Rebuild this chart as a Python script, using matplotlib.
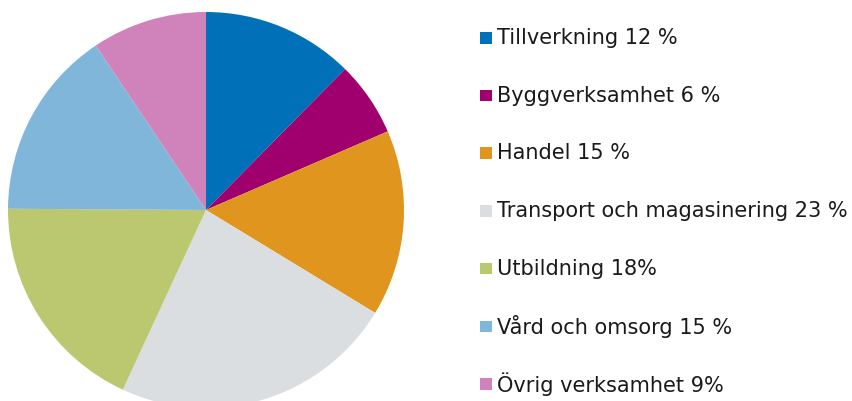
import matplotlib.pyplot as plt
from matplotlib.patches import Rectangle

# Sector shares (%), labels as printed, sizes
labels = ['Tillverkning 12 %', 'Byggverksamhet 6 %', 'Handel 15 %',
          'Transport och magasinering 23 %', 'Utbildning 18%',
          'Vård och omsorg 15 %', 'Övrig verksamhet 9%']
shares = [12.4, 6.1, 15.2, 23.2, 18.2, 15.5, 9.4]
colors = ['#0070b8', '#a0006e', '#e0961e', '#dbdee1', '#bcc870',
          '#7fb6da', '#d083bb']

W, H = 852, 401
fig = plt.figure(figsize=(W / 100, H / 100), dpi=100)

# pie axes: centre (206, 210) px, radius 198 px
r = 198
cx, cy = 206, 210
ax = fig.add_axes([(cx - r) / W, (H - cy - r) / H, 2 * r / W, 2 * r / H])
ax.pie(shares, colors=colors, startangle=90, counterclock=False,
       radius=1, wedgeprops=dict(linewidth=0))
ax.set_xlim(-1, 1)
ax.set_ylim(-1, 1)
ax.set_aspect('equal')
ax.axis('off')

# legend drawn as squares + text
y0, step = 38, 57.7
for i, (lab, col) in enumerate(zip(labels, colors)):
    y = y0 + i * step
    fig.patches.append(Rectangle((480 / W, 1 - (y + 5.5) / H), 11.5 / W, 11.5 / H,
                                 transform=fig.transFigure, color=col, lw=0))
    fig.text(497 / W, 1 - y / H, lab, fontsize=15, va='center', ha='left',
             color='#1a1a1a', family='DejaVu Sans')

fig.savefig('out.png', dpi=100)
